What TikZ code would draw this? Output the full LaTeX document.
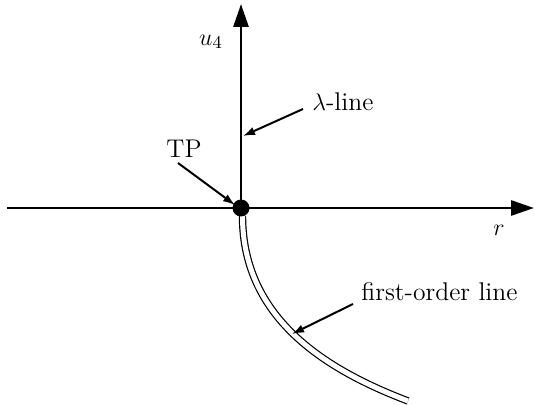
\documentclass[tikz,border=0pt]{standalone}
\usetikzlibrary{arrows.meta}
\begin{document}
\begin{tikzpicture}[x=0.5pt,y=-0.5pt,
  axis/.style={line width=1.4pt,-{Triangle[length=11.5pt,width=7.5pt]}},
  pointer/.style={line width=1pt,-{Latex[length=6pt,width=4.2pt]}},
  lbl/.style={inner sep=0pt,font=\fontsize{12.8}{15}\selectfont},
  dline/.style={double,line width=0.6pt,double distance=2.5pt}]
\useasboundingbox (0,0) rectangle (535,405);
\coordinate (O) at (241,208);
\coordinate (xl) at (7,208);
\coordinate (xr) at (534,208);
\coordinate (yt) at (241,4);
\coordinate (cs) at (242.5,216);
\coordinate (ce) at (408,401);
% first-order line (double)
\draw[dline] (cs) .. controls (242.5,322) and (332,372) .. (ce);
% axes
\draw[axis] (xl) -- (xr);
\draw[axis] (O) -- (yt);
\fill (O) circle[radius=8.5];
% labels
\node[lbl] (u4) at (211,42) {$u_4$};
\node[lbl] (r) at (499,230) {$r$};
\node[lbl,anchor=west] (lam) at (312,102) {$\lambda$-line};
\node[lbl] (tp) at (184,149) {TP};
\node[lbl,anchor=west] (fo) at (361,292) {first-order line};
% pointers
\coordinate (lamA) at (303,109);
\coordinate (lamB) at (243,136);
\coordinate (tpA) at (178,163);
\coordinate (tpB) at (235,205);
\coordinate (foA) at (353,304);
\coordinate (foB) at (292,334);
\draw[pointer] (lamA) -- (lamB);
\draw[pointer] (tpA) -- (tpB);
\draw[pointer] (foA) -- (foB);
\end{tikzpicture}
\end{document}
